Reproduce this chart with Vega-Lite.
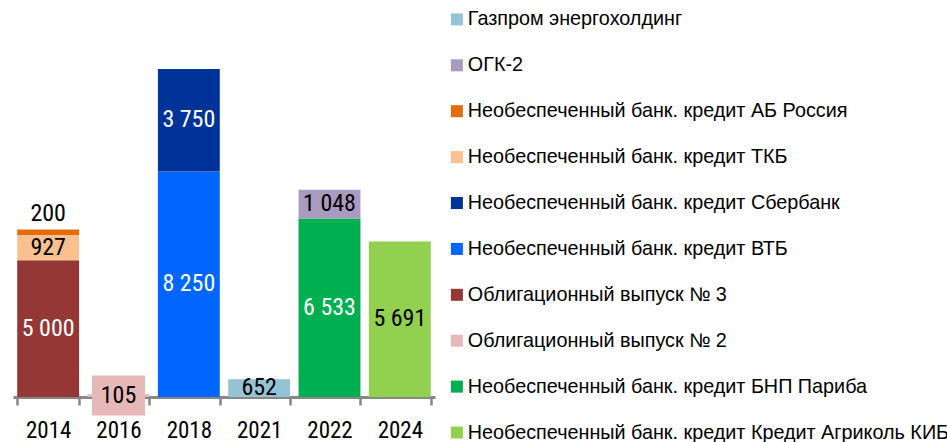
{
  "$schema": "https://vega.github.io/schema/vega-lite/v6.json",
  "width": 422,
  "height": 328,
  "autosize": {"type": "none"},
  "padding": {"left": 13, "top": 69, "right": 512, "bottom": 45},
  "background": "white",
  "config": {"view": {"stroke": null}, "font": "Liberation Sans"},
  "data": {
    "values": [
      {"year": "2014", "series": "Облигационный выпуск № 3", "value": 5000},
      {"year": "2014", "series": "Необеспеченный банк. кредит ТКБ", "value": 927},
      {"year": "2014", "series": "Необеспеченный банк. кредит АБ Россия", "value": 200},
      {"year": "2016", "series": "Облигационный выпуск № 2", "value": 105},
      {"year": "2018", "series": "Необеспеченный банк. кредит ВТБ", "value": 8250},
      {"year": "2018", "series": "Необеспеченный банк. кредит Сбербанк", "value": 3750},
      {"year": "2021", "series": "Газпром энергохолдинг", "value": 652},
      {"year": "2022", "series": "Необеспеченный банк. кредит БНП Париба", "value": 6533},
      {"year": "2022", "series": "ОГК-2", "value": 1048},
      {"year": "2024", "series": "Необеспеченный банк. кредит Кредит Агриколь КИБ", "value": 5691}
    ]
  },
  "transform": [
    {"stack": "value", "groupby": ["year"], "sort": [{"field": "value", "order": "descending"}], "as": ["v0", "v1"]},
    {"calculate": "(datum.v0 + datum.v1) / 2", "as": "mid"},
    {"calculate": "replace(format(datum.value, ',d'), ',', ' ')", "as": "label"}
  ],
  "encoding": {
    "x": {
      "field": "year",
      "type": "ordinal",
      "scale": {"paddingInner": 0.12, "paddingOuter": 0.06},
      "axis": {
        "title": null,
        "labelAngle": 0,
        "labelFont": "Roboto Condensed, Liberation Sans Narrow, DejaVu Sans Condensed, sans-serif",
        "labelFontSize": 23,
        "labelColor": "black",
        "labelPadding": 14,
        "domainColor": "#878787",
        "domainWidth": 3,
        "tickColor": "#878787",
        "tickWidth": 2.5,
        "tickSize": 8,
        "tickBand": "extent"
      }
    }
  },
  "layer": [
    {
      "mark": {"type": "bar"},
      "encoding": {
        "y": {"field": "v0", "type": "quantitative", "scale": {"domain": [0, 12000], "nice": false, "zero": true}, "axis": null},
        "y2": {"field": "v1"},
        "color": {
          "field": "series",
          "type": "nominal",
          "scale": {
            "domain": [
              "Газпром энергохолдинг",
              "ОГК-2",
              "Необеспеченный банк. кредит АБ Россия",
              "Необеспеченный банк. кредит ТКБ",
              "Необеспеченный банк. кредит Сбербанк",
              "Необеспеченный банк. кредит ВТБ",
              "Облигационный выпуск № 3",
              "Облигационный выпуск № 2",
              "Необеспеченный банк. кредит БНП Париба",
              "Необеспеченный банк. кредит Кредит Агриколь КИБ"
            ],
            "range": ["#93C3D5", "#A99BC0", "#E46C0A", "#FAC090", "#003399", "#0066FF", "#953735", "#E6B9B8", "#00B050", "#92D050"]
          },
          "legend": {
            "title": null,
            "orient": "none",
            "legendX": 434,
            "legendY": -59.5,
            "symbolType": "square",
            "symbolSize": 144,
            "symbolStrokeWidth": 0,
            "labelFont": "Liberation Sans",
            "labelFontSize": 19.8,
            "labelColor": "black",
            "labelOffset": 1,
            "labelLimit": 1000,
            "rowPadding": 24.9,
            "padding": 0
          }
        }
      }
    },
    {
      "transform": [{"filter": "datum.series === 'Облигационный выпуск № 2'"}],
      "mark": {"type": "point", "shape": "M-1.325,-1H1.325V1H-1.325Z", "size": 1600, "filled": true, "color": "#E6B9B8", "opacity": 1, "strokeWidth": 0},
      "encoding": {
        "y": {"field": "mid", "type": "quantitative", "scale": {"domain": [0, 12000], "nice": false, "zero": true}, "axis": null}
      }
    },
    {
      "transform": [{"filter": "datum.series !== 'Необеспеченный банк. кредит АБ Россия'"}],
      "mark": {"type": "text", "font": "Roboto Condensed, Liberation Sans Narrow, DejaVu Sans Condensed, sans-serif", "fontSize": 24, "baseline": "middle", "align": "center"},
      "encoding": {
        "y": {"field": "mid", "type": "quantitative", "scale": {"domain": [0, 12000], "nice": false, "zero": true}, "axis": null},
        "text": {"field": "label"},
        "color": {
          "condition": {"test": "indexof(['Облигационный выпуск № 3', 'Необеспеченный банк. кредит ВТБ', 'Необеспеченный банк. кредит Сбербанк', 'Необеспеченный банк. кредит БНП Париба'], datum.series) >= 0", "value": "white"},
          "value": "black"
        }
      }
    },
    {
      "transform": [{"filter": "datum.series === 'Необеспеченный банк. кредит АБ Россия'"}],
      "mark": {"type": "text", "font": "Roboto Condensed, Liberation Sans Narrow, DejaVu Sans Condensed, sans-serif", "fontSize": 24, "baseline": "alphabetic", "align": "center", "dy": -9, "color": "black"},
      "encoding": {
        "y": {"field": "v1", "type": "quantitative", "scale": {"domain": [0, 12000], "nice": false, "zero": true}, "axis": null},
        "text": {"field": "label"}
      }
    }
  ]
}
